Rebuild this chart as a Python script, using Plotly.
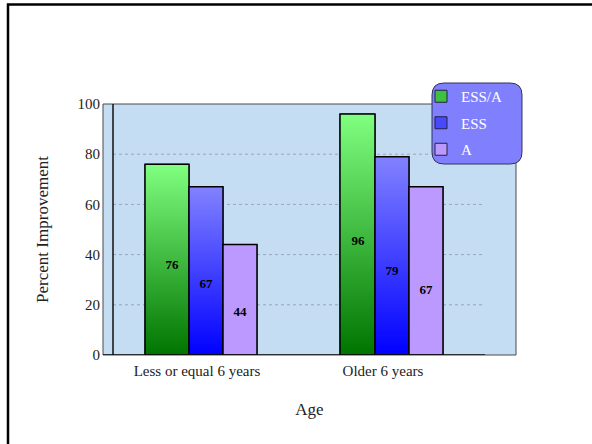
import plotly.graph_objects as go

# Data
categories = ["Less or equal 6 years", "Older 6 years"]
series_names = ["ESS/A", "ESS", "A"]
ess_a = [76, 96]
ess = [67, 79]
a_only = [44, 67]
y_ticks = [0, 20, 40, 60, 80, 100]

series_values = [ess_a, ess, a_only]

# Styling
FONT = "Liberation Serif"
solid_colors = ["#40c040", "#4848ff", "#bb99ff"]
gradients = [
    [[0, "#007400"], [1, "#80ff80"]],
    [[0, "#0000ff"], [1, "#8282ff"]],
    [[0, "#bb99ff"], [1, "#bb99ff"]],
]
label_frac = [0.47, 0.42, 0.38]   # label height as a fraction of the bar

# Geometry in axis units (one category step = 186 px)
PX = 1 / 186.0
bar_w = 34 * PX
offsets = [-bar_w, 0.0, bar_w]
widths = [[44 * PX, 35 * PX], [bar_w, bar_w], [bar_w, bar_w]]

fig = go.Figure()

# Bars (solid base, also providing legend entries)
for k, (name, vals) in enumerate(zip(series_names, series_values)):
    xs = [i + offsets[k] + bar_w / 2 - widths[k][i] / 2 for i in range(len(vals))]
    fig.add_trace(go.Bar(
        x=xs, y=vals, width=widths[k], name=name,
        marker=dict(color=solid_colors[k], line=dict(color="#222244", width=1)),
        legendgroup=name, showlegend=True, hoverinfo="skip",
    ))

# Gradient fill over each bar
for k, vals in enumerate(series_values):
    for i, v in enumerate(vals):
        right = i + offsets[k] + bar_w / 2
        left = right - widths[k][i]
        fig.add_trace(go.Scatter(
            x=[left, right, right, left, left],
            y=[0, 0, v, v, 0],
            mode="lines", fill="toself",
            fillgradient=dict(type="vertical", colorscale=gradients[k]),
            line=dict(color="black", width=1.5),
            showlegend=False, hoverinfo="skip",
        ))

# Value labels
for k, vals in enumerate(series_values):
    fig.add_trace(go.Scatter(
        x=[i + offsets[k] for i in range(len(vals))],
        y=[v * label_frac[k] for v in vals],
        mode="text", text=[str(v) for v in vals],
        textfont=dict(family=FONT, size=13, color="black", weight="bold"),
        showlegend=False, hoverinfo="skip",
    ))

L, R, T, B = 103, 76, 104, 89
W, H = 592, 444
pw, ph = W - L - R, H - T - B


def px_x(p):
    return (p - L) / pw


def px_y(p):
    return (H - B - p) / ph


shapes = [
    # plot wall
    dict(type="rect", xref="paper", yref="paper", x0=0, x1=1, y0=0, y1=1,
         fillcolor="#c5ddf3", line=dict(color="#4a4a4a", width=1), layer="below"),
]
# grid lines
for t in y_ticks[1:-1]:
    shapes.append(dict(type="line", xref="paper", yref="y", x0=px_x(113), x1=px_x(485),
                       y0=t, y1=t, line=dict(color="#9aa6b2", width=1, dash="dot"),
                       layer="below"))
shapes += [
    # y axis line
    dict(type="line", xref="paper", yref="paper", x0=px_x(113), x1=px_x(113), y0=0, y1=1,
         line=dict(color="#111111", width=1.5), layer="above"),
    # base line
    dict(type="line", xref="paper", yref="y", x0=0, x1=px_x(485), y0=0, y1=0,
         line=dict(color="#111111", width=1.5), layer="above"),
    # legend panel
    dict(type="path", xref="paper", yref="paper", layer="above",
         path=(f"M {px_x(444)},{px_y(83)} L {px_x(510)},{px_y(83)} "
               f"Q {px_x(522)},{px_y(83)} {px_x(522)},{px_y(95)} "
               f"L {px_x(522)},{px_y(152)} Q {px_x(522)},{px_y(164)} {px_x(510)},{px_y(164)} "
               f"L {px_x(444)},{px_y(164)} Q {px_x(432)},{px_y(164)} {px_x(432)},{px_y(152)} "
               f"L {px_x(432)},{px_y(95)} Q {px_x(432)},{px_y(83)} {px_x(444)},{px_y(83)} Z"),
         fillcolor="#8080ff", line=dict(color="#33335a", width=1)),
    # page frame
    dict(type="path", xref="paper", yref="paper", layer="above",
         path=f"M {px_x(8)},{px_y(460)} L {px_x(8)},{px_y(4.5)} L {px_x(610)},{px_y(4.5)}",
         line=dict(color="black", width=2.5)),
]

fig.update_layout(
    width=W, height=H,
    margin=dict(l=L, r=R, t=T, b=B),
    paper_bgcolor="white", plot_bgcolor="rgba(0,0,0,0)",
    barmode="overlay", showlegend=True,
    font=dict(family=FONT, color="#222222"),
    shapes=shapes,
    legend=dict(
        x=px_x(421), y=px_y(80), xanchor="left", yanchor="top",
        bgcolor="rgba(0,0,0,0)", borderwidth=0,
        font=dict(family=FONT, size=15, color="white"),
        tracegroupgap=4, itemclick=False, itemdoubleclick=False,
    ),
    xaxis=dict(
        range=[-(206 - L) * PX, 1 + (L + pw - 392) * PX],
        tickvals=[0, 1], ticktext=categories,
        showgrid=False, zeroline=False, showline=False, ticks="",
        tickfont=dict(family=FONT, size=15, color="#222222"),
        ticklabelshift=-9, ticklabelstandoff=5,
        title=dict(text="Age", font=dict(family=FONT, size=17, color="#222222"), standoff=25),
        fixedrange=True,
    ),
    yaxis=dict(
        range=[0, 100], tickvals=y_ticks,
        showgrid=False, zeroline=False, showline=False, ticks="",
        tickfont=dict(family=FONT, size=15, color="#222222"),
        ticklabelstandoff=2,
        title=dict(text="Percent Improvement", font=dict(family=FONT, size=17, color="#222222"),
                   standoff=24),
        fixedrange=True,
    ),
)

fig.write_html("out.html")
